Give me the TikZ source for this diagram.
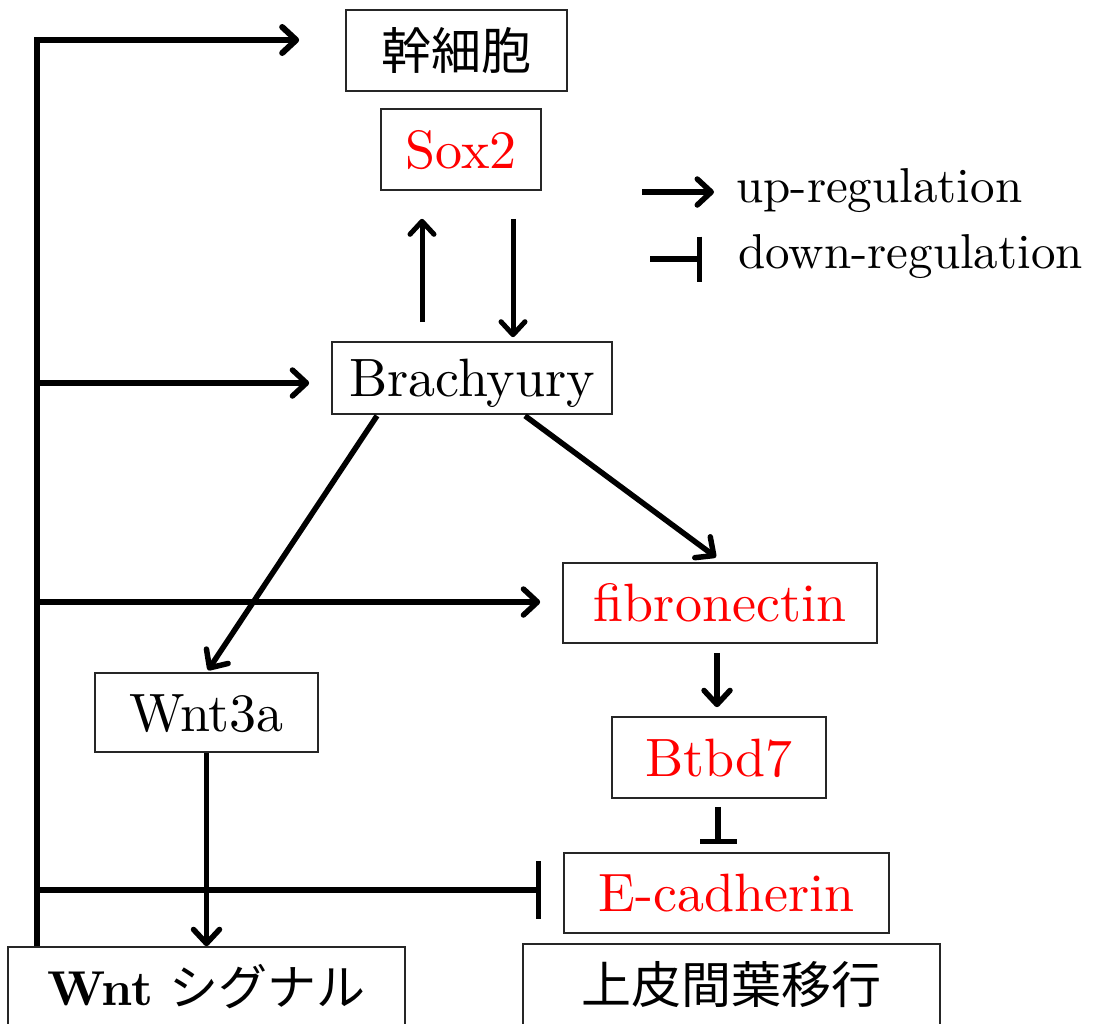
\documentclass[tikz,border=0pt]{standalone}
\usepackage{fontspec}
\setmainfont{lmroman10}[Extension=.otf,UprightFont=*-regular,BoldFont=*-bold,ItalicFont=*-italic,BoldItalicFont=*-bolditalic]
\newfontfamily\jpfont{Noto Sans CJK JP}
\usetikzlibrary{arrows.meta,calc}
\definecolor{genered}{RGB}{255,0,0}
\begin{document}
\begin{tikzpicture}[x=1pt,y=-1pt,
  box/.style={draw=black!85,line width=1.6pt,inner sep=0pt,font=\fontsize{54}{60}\selectfont,text height=37pt,text depth=0pt},
  jbox/.style={draw=black!85,line width=1.6pt,inner sep=0pt},
  gene/.style={text=genered},
  conn/.style={line width=5.5pt,-{Straight Barb[length=14pt,width=26pt,round]}},
  conntwo/.style={line width=5pt,-{Straight Barb[length=13pt,width=24pt,round]}},
  inhib/.style={line width=5.5pt,-{Bar[width=58pt]}},
  legtext/.style={anchor=base west,inner sep=0pt,font=\fontsize{49}{54}\selectfont}]
\useasboundingbox (0,0) rectangle (1094,1023);

% nodes
\node[jbox,minimum width=221pt,minimum height=81pt,font=\jpfont\fontsize{50}{56}\selectfont] (stem) at (456.5,50.5) {幹細胞};
\node[box,gene,minimum width=160pt,minimum height=81pt] (sox2) at (461,149.5) {Sox2};
\node[box,minimum width=280pt,minimum height=72pt] (brachy) at (472,378) {Brachyury};
\node[box,gene,minimum width=314pt,minimum height=80pt] (fibro) at (720,603) {fibronectin};
\node[box,minimum width=223pt,minimum height=79pt] (wnt3a) at (206.5,712.5) {Wnt3a};
\node[box,gene,minimum width=214pt,minimum height=81pt] (btbd7) at (719,757.5) {Btbd7};
\node[box,gene,minimum width=325pt,minimum height=80pt] (ecad) at (726.5,893) {E-cadherin};
\node[jbox,minimum width=397pt,minimum height=80pt] (wntsig) at (206.5,987)
  {\fontsize{49}{54}\selectfont\bfseries Wnt\hspace{16pt}\mdseries\jpfont\fontsize{49}{54}\selectfont シグナル};
\node[jbox,minimum width=417pt,minimum height=82pt,font=\jpfont\fontsize{50}{56}\selectfont] (emt) at (731.5,985) {上皮間葉移行};

% legend
\node[legtext] (uplab) at (736,202) {up-regulation};
\node[legtext] (downlab) at (738,268) {down-regulation};
\coordinate (lu) at (642,192);
\coordinate (ld) at (650,259);
\draw[conn,shorten >=22pt] (lu) -- (lu -| uplab.west);
\draw[line width=5.5pt,-{Bar[width=45pt]},shorten >=36pt] (ld) -- (ld -| downlab.west);

% trunk
\coordinate (jtop) at (37,40);
\coordinate (jb) at (37,383);
\coordinate (jf) at (37,602);
\coordinate (je) at (37,890);
\draw[conn,line width=6pt,shorten >=46pt] (jtop |- wntsig.north) -- (jtop) -- (jtop -| stem.west);
\draw[conn,shorten >=22pt] (jb) -- (jb -| brachy.west);
\draw[conn,shorten >=22pt] (jf) -- (jf -| fibro.west);
\draw[inhib,shorten >=22pt] (je) -- (je -| ecad.west);

% sox2 / brachyury
\draw[conntwo] ($(brachy.north)+(-50,-19)$) -- ($(sox2.south)+(-39,28)$);
\draw[conntwo] ($(sox2.south)+(52,28)$) -- ($(brachy.north)+(41,-4)$);

% brachyury targets
\draw[conn] ($(brachy.south)+(53,1)$) -- ($(fibro.north)+(-4,-5)$);
\draw[conn] ($(brachy.south)+(-95,1)$) -- ($(wnt3a.north)+(1.5,-2)$);
\draw[conn] ($(fibro.south)+(-3,9)$) -- ($(btbd7.north)+(-2,-9)$);
\draw[line width=5.5pt,-{Bar[width=37pt]}] ($(btbd7.south)+(-1,8)$) -- ($(ecad.north)+(-8.5,-8)$);
\draw[conn] (wnt3a.south) -- (wntsig.north);
\end{tikzpicture}
\end{document}
